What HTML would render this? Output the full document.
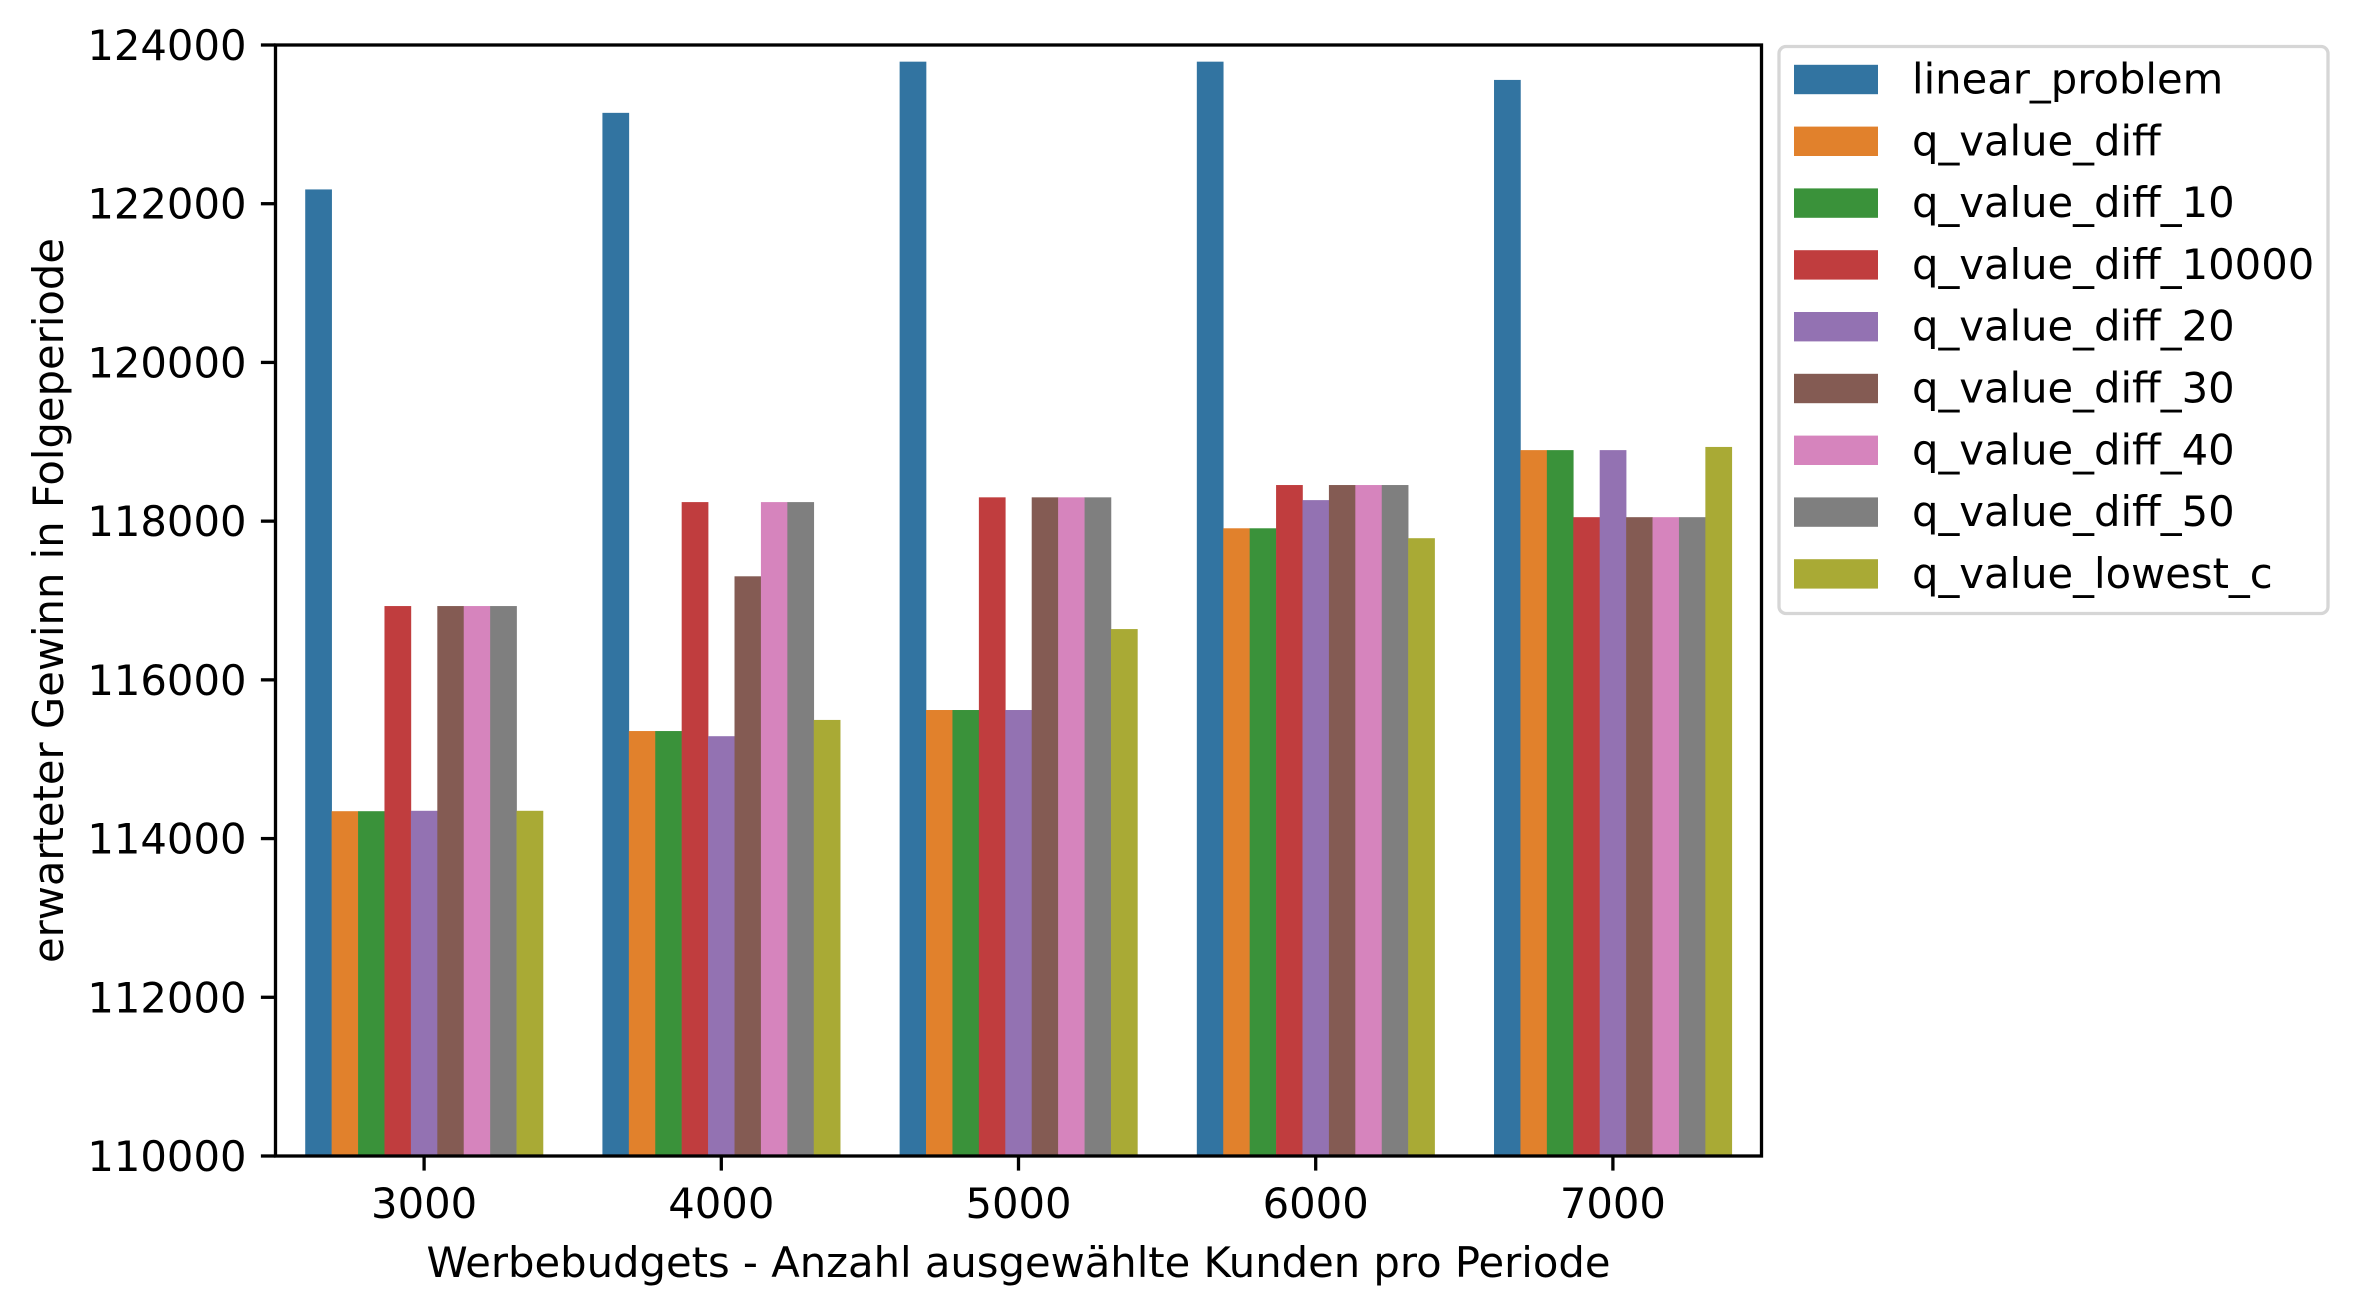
<!DOCTYPE html>
<html><head><meta charset="utf-8"><style>
html,body{margin:0;padding:0;background:#fff;}
svg{display:block;font-family:"DejaVu Sans","Liberation Sans",sans-serif;}
</style></head><body>
<svg id="chart" width="2360" height="1310" viewBox="0 0 2360 1310" xmlns="http://www.w3.org/2000/svg">
<g id="bars"></g>
<g id="axes"></g>
<g id="legend"></g>
</svg>
<script>
const categories = ["3000","4000","5000","6000","7000"];
const seriesNames = ["linear_problem","q_value_diff","q_value_diff_10","q_value_diff_10000","q_value_diff_20","q_value_diff_30","q_value_diff_40","q_value_diff_50","q_value_lowest_c"];
const seriesColors = ["#3274a1","#e1812c","#3a923a","#c03d3e","#9372b2","#845b53","#d684bd","#7f7f7f","#a9aa35"];
const linearProblem = [122180,123145,123790,123790,123560];
const qValueDiff = [114345,115355,115620,117910,118895];
const qValueDiff10 = [114345,115355,115620,117910,118895];
const qValueDiff10000 = [116930,118240,118300,118455,118050];
const qValueDiff20 = [114350,115290,115620,118265,118895];
const qValueDiff30 = [116930,117305,118300,118455,118050];
const qValueDiff40 = [116930,118240,118300,118455,118050];
const qValueDiff50 = [116930,118240,118300,118455,118050];
const qValueLowestC = [114350,115495,116640,117785,118935];
const yTicks = [110000,112000,114000,116000,118000,120000,122000,124000];
const allSeries = [linearProblem,qValueDiff,qValueDiff10,qValueDiff10000,qValueDiff20,qValueDiff30,qValueDiff40,qValueDiff50,qValueLowestC];

const NS = "http://www.w3.org/2000/svg";
const L = 275.5, R = 1761.5, T = 45, B = 1156;
const yMin = 110000, yMax = 124000;
const FS = 41.7;
function yScale(v){ return B - (v - yMin) / (yMax - yMin) * (B - T); }
const band = (R - L) / categories.length;
function xCenter(i){ return L + band * (i + 0.5); }
function mk(tag, attrs, parent){ const e = document.createElementNS(NS, tag); for (const k in attrs) e.setAttribute(k, attrs[k]); parent.appendChild(e); return e; }

const barsG = document.getElementById('bars');
const groupW = band * 0.8, barW = groupW / seriesNames.length;
allSeries.forEach((vals, j) => {
  vals.forEach((v, i) => {
    const x = xCenter(i) - groupW / 2 + j * barW;
    const y = yScale(v);
    const r = mk('rect', {x: x, y: y, width: barW + 0.3, height: B - y, fill: seriesColors[j]}, barsG);
    
    
  });
});

const axesG = document.getElementById('axes');
const frame = mk('rect', {x: L, y: T, width: R - L, height: B - T, fill: 'none', stroke: '#000', 'stroke-width': 3.3}, axesG);


yTicks.forEach(t => {
  const y = yScale(t);
  const tk = mk('line', {x1: L - 14.6, x2: L, y1: y, y2: y, stroke: '#000', 'stroke-width': 3.3}, axesG);
  
  
  const tx = mk('text', {x: L - 29, y: y + 15, 'text-anchor': 'end', 'font-size': FS, fill: '#000'}, axesG);
  tx.textContent = t;
  
  
});
categories.forEach((c, i) => {
  const x = xCenter(i);
  const tk = mk('line', {x1: x, x2: x, y1: B, y2: B + 14.6, stroke: '#000', 'stroke-width': 3.3}, axesG);
  
  
  const tx = mk('text', {x: x, y: B + 62, 'text-anchor': 'middle', 'font-size': FS, fill: '#000'}, axesG);
  tx.textContent = c;
  
  
});
const xl = mk('text', {x: (L + R) / 2, y: 1277, 'text-anchor': 'middle', 'font-size': FS, fill: '#000'}, axesG);
xl.textContent = 'Werbebudgets - Anzahl ausgewählte Kunden pro Periode';


const yl = mk('text', {x: 0, y: 0, 'text-anchor': 'middle', 'font-size': FS, fill: '#000', transform: 'translate(63,' + ((T + B) / 2) + ') rotate(-90)'}, axesG);
yl.textContent = 'erwarteter Gewinn in Folgeperiode';



const legG = document.getElementById('legend');
const box = mk('rect', {x: 1779, y: 46.5, width: 549, height: 567, rx: 7, fill: '#fff', stroke: '#d6d6d6', 'stroke-width': 3.3}, legG);


seriesNames.forEach((n, j) => {
  const cy = 79.5 + j * 61.8;
  const g = mk('g', {}, legG);
  
  
  const p = mk('rect', {x: 1794, y: cy - 14.7, width: 84, height: 29.4, fill: seriesColors[j]}, g);
  
  
  const t = mk('text', {x: 1912, y: cy + 14, 'font-size': FS, fill: '#000'}, g);
  t.textContent = n;
  
  
});
</script>
</body></html>
